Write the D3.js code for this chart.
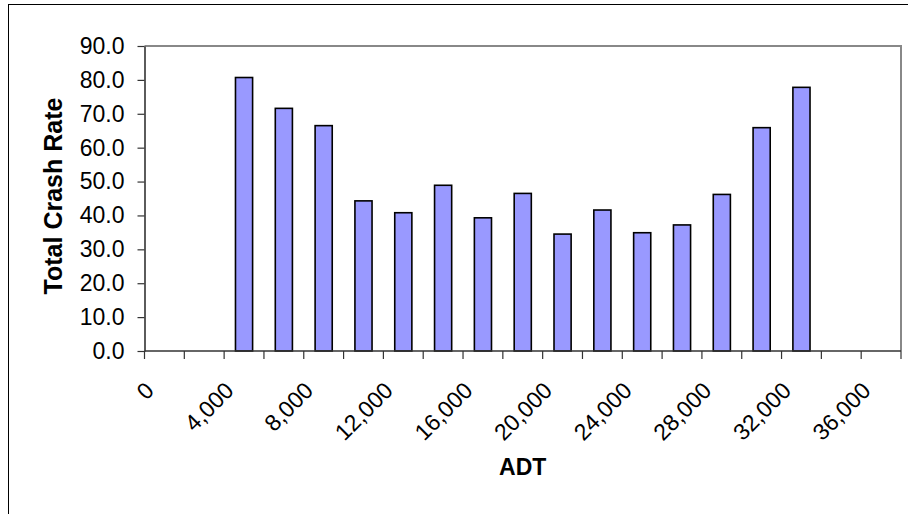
<!DOCTYPE html>
<html>
<head>
<meta charset="utf-8">
<script src="https://cdn.jsdelivr.net/npm/d3@7"></script>
<style>
  html, body { margin: 0; padding: 0; background: #fff; }
  svg { display: block; }
  text { font-family: "Liberation Sans", Arial, sans-serif; }
</style>
</head>
<body>
<svg id="chart" width="908" height="514"></svg>
<script>
// ---- data ----
const categories = [0, 2000, 4000, 6000, 8000, 10000, 12000, 14000, 16000, 18000,
                    20000, 22000, 24000, 26000, 28000, 30000, 32000, 34000, 36000];
const crashRate = [null, null, 80.7, 71.6, 66.5, 44.3, 40.8, 48.9, 39.3, 46.5,
                   34.5, 41.6, 34.9, 37.2, 46.2, 65.9, 77.8, null, null];
const yTicks = [0, 10, 20, 30, 40, 50, 60, 70, 80, 90];
const xLabelCats = [0, 4000, 8000, 12000, 16000, 20000, 24000, 28000, 32000, 36000];
const yTitle = "Total Crash Rate";
const xTitle = "ADT";

// ---- layout ----
const svg = d3.select("#chart");
const plot = { left: 144.5, right: 901, top: 46, bottom: 351 };

// chart frame
svg.append("rect")
  .attr("x", 8.5).attr("y", 4.5)
  .attr("width", 1000).attr("height", 1000)
  .attr("fill", "none").attr("stroke", "#000").attr("stroke-width", 1);

const x = d3.scaleBand().domain(categories).range([plot.left, plot.right]).padding(0);
const y = d3.scaleLinear().domain([0, 90]).range([plot.bottom, plot.top]);

// plot area border (top & right)
svg.append("path")
  .attr("d", `M${plot.left},${plot.top}H${plot.right}V${plot.bottom}`)
  .attr("fill", "none").attr("stroke", "#888").attr("stroke-width", 2);

// bars
const barRatio = 0.43;
const bw = x.bandwidth() * barRatio;
svg.append("g").selectAll("rect")
  .data(categories.map((c, i) => ({ c, v: crashRate[i] })).filter(d => d.v != null))
  .join("rect")
  .attr("x", d => x(d.c) + (x.bandwidth() - bw) / 2)
  .attr("y", d => y(d.v))
  .attr("width", bw)
  .attr("height", d => y(0) - y(d.v))
  .attr("fill", "#9999FF")
  .attr("stroke", "#000")
  .attr("stroke-width", 1.6);

// y axis
const yAxis = svg.append("g")
  .attr("transform", `translate(${plot.left},0)`)
  .call(d3.axisLeft(y).tickValues(yTicks).tickFormat(d3.format(".1f"))
        .tickSize(7).tickSizeOuter(0).tickPadding(13));
yAxis.select(".domain").attr("stroke", "#333").attr("stroke-width", 1.6);
yAxis.selectAll(".tick line").attr("stroke", "#333").attr("stroke-width", 1.2);
yAxis.selectAll(".tick text")
  .attr("font-size", 23).attr("fill", "#000")
  .style("font-family", '"Liberation Sans", Arial, sans-serif');

// x axis line
svg.append("line")
  .attr("x1", plot.left).attr("x2", plot.right)
  .attr("y1", plot.bottom).attr("y2", plot.bottom)
  .attr("stroke", "#333").attr("stroke-width", 1.6);

// x tick marks at category boundaries
const bounds = categories.map(c => x(c)).concat([x(categories[categories.length - 1]) + x.bandwidth()]);
svg.append("g").selectAll("line")
  .data(bounds)
  .join("line")
  .attr("x1", d => d).attr("x2", d => d)
  .attr("y1", plot.bottom).attr("y2", plot.bottom + 8)
  .attr("stroke", "#333").attr("stroke-width", 1.2);

// x labels
svg.append("g").selectAll("text")
  .data(xLabelCats)
  .join("text")
  .attr("transform", d => `translate(${x(d) + x.bandwidth() / 2 - 9},${plot.bottom + 41}) rotate(-45)`)
  .attr("text-anchor", "end")
  .attr("font-size", 23)
  .attr("fill", "#000")
  .text(d => d3.format(",")(d));

// titles
svg.append("text")
  .attr("x", (plot.left + plot.right) / 2)
  .attr("y", 475)
  .attr("text-anchor", "middle")
  .attr("font-size", 23).attr("font-weight", "bold")
  .text(xTitle);

svg.append("text")
  .attr("transform", `translate(62,196) rotate(-90)`)
  .attr("text-anchor", "middle")
  .attr("font-size", 25).attr("font-weight", "bold")
  .text(yTitle);
</script>
</body>
</html>
